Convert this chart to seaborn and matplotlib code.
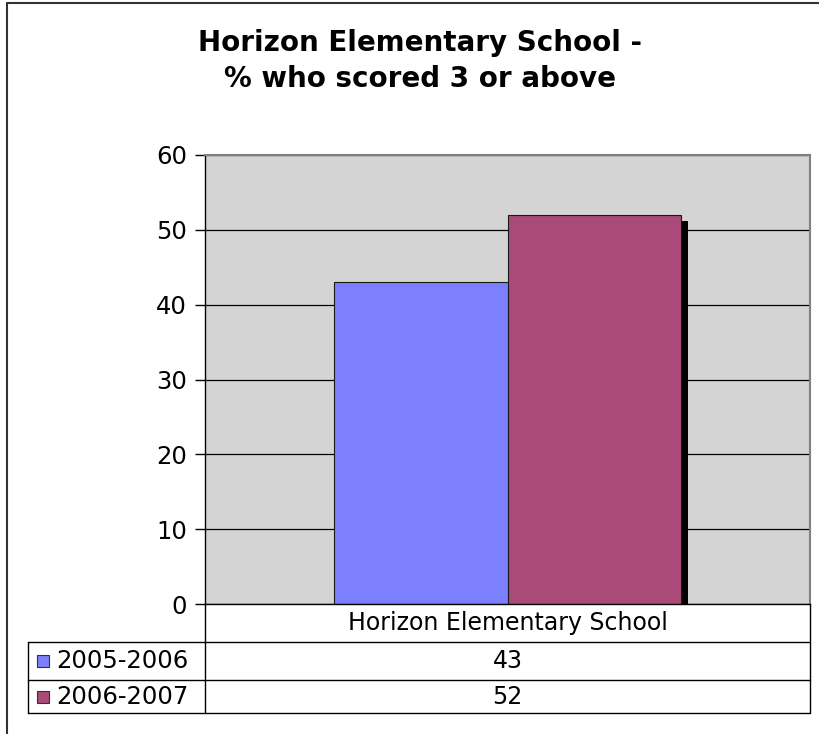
import matplotlib
matplotlib.use('Agg')

import pandas as pd
import matplotlib.pyplot as plt
import seaborn as sns
from matplotlib.patches import Rectangle
from matplotlib.lines import Line2D

# -------------------------------
# Data
# -------------------------------
school = ["Horizon Elementary School"]
years = ["2005-2006", "2006-2007"]
pct = [43, 52]
colors = ["#7C80FF", "#A94A78"]

df = pd.DataFrame({"school": school * len(years), "year": years, "pct": pct})

W, H = 819, 734

def fx(x):
    return x / W

def fy(y):
    return 1 - y / H

sns.set_style("white")
plt.rcParams['font.family'] = ['DejaVu Sans']
plt.rcParams['text.color'] = 'black'
plt.rcParams['ytick.color'] = 'black'
plt.rcParams['ytick.labelcolor'] = 'black'

fig = plt.figure(figsize=(W / 100, H / 100), dpi=100)

# plot area in pixel coords
left, right, top, bottom = 205, 810, 155, 604
ax = fig.add_axes([fx(left), fy(bottom), fx(right - left), (bottom - top) / H])
ax.set_facecolor("#D4D4D4")

sns.barplot(data=df, x="school", y="pct", hue="year", palette=dict(zip(years, colors)),
            saturation=1, width=0.572, edgecolor="#1a1a1a", linewidth=0.8,
            legend=False, ax=ax, zorder=2)

# drop shadow behind the bars
for p in ax.patches[:len(years)]:
    sh = Rectangle((p.get_x() + 0.0116, 0), p.get_width(), p.get_height() - 0.8,
                   facecolor="black", edgecolor="none", zorder=1.5)
    ax.add_patch(sh)

ax.set_ylim(0, 60)
ax.set_xlim(-0.5, 0.5)
ax.set_yticks(range(0, 61, 10))
ax.tick_params(axis="y", labelsize=17.5, length=7, width=1, color="black", direction="out", pad=6, left=True)
ax.tick_params(axis="x", bottom=False, labelbottom=False)
ax.set_xlabel("")
ax.set_ylabel("")
ax.yaxis.grid(True, color="black", linewidth=0.9)
ax.set_axisbelow(True)
for s in ["left", "bottom"]:
    ax.spines[s].set_color("black")
    ax.spines[s].set_linewidth(1)
for s in ["top", "right"]:
    ax.spines[s].set_color("#808080")
    ax.spines[s].set_linewidth(1.5)

# title
fig.text(fx(420), fy(61), "Horizon Elementary School -\n% who scored 3 or above",
         ha="center", va="center", fontsize=20, fontweight="bold", linespacing=1.4)

# -------------------------------
# Data table under the chart
# -------------------------------
tleft, tsep, tright = 28, 205, 810
rows_y = [604, 642, 680, 713]

def hline(y, x0, x1):
    fig.add_artist(Line2D([fx(x0), fx(x1)], [fy(y), fy(y)], color="black", lw=1))

def vline(x, y0, y1):
    fig.add_artist(Line2D([fx(x), fx(x)], [fy(y0), fy(y1)], color="black", lw=1))

for y in rows_y[1:]:
    hline(y, tleft, tright)
vline(tleft, rows_y[1], rows_y[3])
vline(tsep, rows_y[0], rows_y[3])
vline(tright, rows_y[0], rows_y[3])

cx = (tsep + tright) / 2
fig.text(fx(cx), fy((rows_y[0] + rows_y[1]) / 2), school[0], ha="center", va="center", fontsize=17)
for i, (yr, v, c) in enumerate(zip(years, pct, colors)):
    yc = (rows_y[i + 1] + rows_y[i + 2]) / 2
    fig.text(fx(cx), fy(yc), str(v), ha="center", va="center", fontsize=17)
    fig.add_artist(Rectangle((fx(37), fy(yc + 6)), 12 / W, 12 / H, facecolor=c,
                             edgecolor="#333333", lw=0.8))
    fig.text(fx(56), fy(yc), yr, ha="left", va="center", fontsize=17.5)

# outer chart border
fig.add_artist(Line2D([fx(7), fx(7)], [fy(3), fy(734)], color="#333333", lw=1.5))
fig.add_artist(Line2D([fx(7), fx(819)], [fy(3), fy(3)], color="#333333", lw=1.5))

fig.savefig("out.png", dpi=100)
